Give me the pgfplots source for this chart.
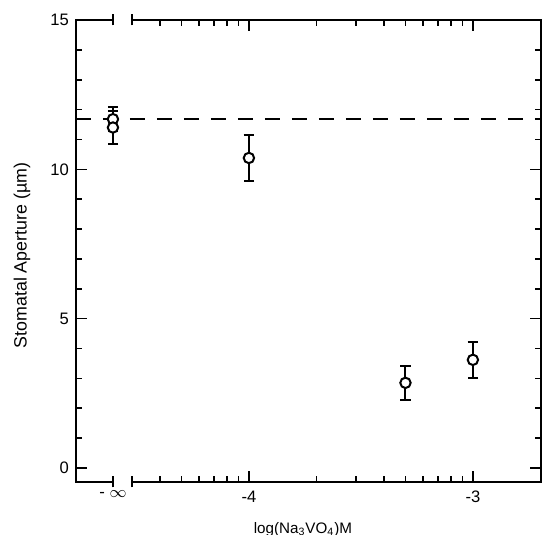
\documentclass[border=0pt]{standalone}
\usepackage{fontspec}
\setmainfont{Liberation Sans}
\usepackage{pgfplots}
\pgfplotsset{compat=1.18}

\begin{document}
\begin{tikzpicture}
  \begin{axis}[
    at={(0,0)}, anchor=south west,
    scale only axis,
    width=232.5pt, height=231pt,
    xmin=-4.772, xmax=-2.696,
    ymin=-0.47, ymax=15,
    clip=false,
    ytick={0,5,10,15},
    minor ytick={1,2,3,4,6,7,8,9,11,12,13,14},
    xtick={-4,-3},
    xticklabels={-4,-3},
    extra x ticks={-4.607},
    extra x tick labels={- $\infty$},
    extra x tick style={major tick length=0pt},
    minor xtick={-4.3979,-4.3010,-4.2218,-4.1549,-4.0969,-4.0458,
                 -3.6990,-3.5229,-3.3979,-3.3010,-3.2218,-3.1549,-3.0969,-3.0458},
    major tick length=5.5pt,
    minor tick length=3pt,
    tick style={line width=0.8pt, black},
    axis line style={line width=1pt},
    /pgf/number format/assume math mode=true,
    tick label style={font=\fontsize{8.3}{10}\selectfont},
    xticklabel style={yshift=-1pt},
    xlabel={log(Na\textsubscript{3}VO\textsubscript{4})M},
    ylabel={Stomatal Aperture (µm)},
    xlabel style={font=\fontsize{7.6}{9}\selectfont, at={(axis description cs:0.488,-0.103)}, anchor=center},
    ylabel style={font=\fontsize{8.9}{10}\selectfont, at={(axis description cs:-0.116,0.49)}, anchor=center, rotate=0},
  ]
    % control level (dashed)
    \addplot[black, line width=1pt, dash pattern=on 7.5pt off 6pt] coordinates {
      (-4.772, 11.7) (-2.696, 11.7)
    };

    \addplot[
      only marks, black,
      mark=*, mark size=2.6pt,
      mark options={fill=white, line width=1pt},
      error bars/.cd,
        y dir=both, y explicit,
        error bar style={line width=1pt},
        error mark options={rotate=90, mark size=2.6pt, line width=1pt}
    ] coordinates {
      (-4.607, 11.68) +- (0, 0.40)
      (-4.607, 11.40) +- (0, 0.55)
      (-4.000, 10.38) +- (0, 0.76)
      (-3.301, 2.85)  +- (0, 0.57)
      (-3.000, 3.62)  +- (0, 0.60)
    };

    \coordinate (b1) at (axis cs:-4.607,-0.47);
    \coordinate (b2) at (axis cs:-4.523,-0.47);
    \coordinate (t1) at (axis cs:-4.607,15);
    \coordinate (t2) at (axis cs:-4.523,15);
  \end{axis}

  % axis break
  \foreach \p/\q in {b1/b2, t1/t2} {
    \fill[white] ([xshift=0.5pt,yshift=-2pt]\p) rectangle ([xshift=-0.5pt,yshift=2pt]\q);
    \draw[line width=1pt] ([yshift=-2.75pt]\p) -- ([yshift=2.75pt]\p);
    \draw[line width=1pt] ([yshift=-2.75pt]\q) -- ([yshift=2.75pt]\q);
  }

  \pgfresetboundingbox
  \path[use as bounding box] (-38pt,-26.5pt) rectangle (233.5pt,241pt);
\end{tikzpicture}
\end{document}
